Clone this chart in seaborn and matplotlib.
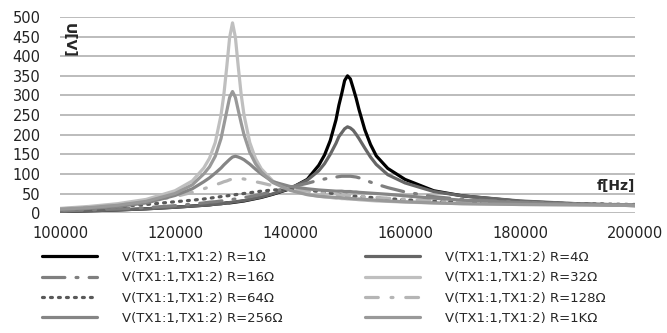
import pandas as pd
import seaborn as sns
import matplotlib.pyplot as plt

sns.set_style('white')
plt.rcParams['font.family'] = ['DejaVu Sans']

# frequency points in kHz
freq_khz = [100, 105, 110, 115, 120, 123, 125, 126, 127, 128, 128.5, 129, 129.5, 130,
            130.5, 131, 131.5, 132, 133, 134, 135, 137, 140, 143, 145, 146, 147, 148,
            148.5, 149, 149.5, 150, 150.5, 151, 151.5, 152, 153, 154, 155, 157, 160,
            165, 170, 180, 190, 200]

r_1 = [4, 6, 8, 11, 15, 18, 20, 21, 23, 24, 25, 26, 26, 27, 28, 29, 30, 31, 34, 37, 40,
       48, 62, 86, 122, 148, 185, 238, 275, 305, 338, 350, 342, 318, 293, 264, 213, 175,
       146, 114, 86, 57, 44, 30, 23, 19]
r_4 = [4, 6, 8, 11, 15, 18, 20, 21, 23, 24, 25, 26, 27, 28, 29, 30, 31, 32, 35, 38, 41,
       49, 63, 84, 108, 126, 150, 178, 195, 205, 215, 220, 217, 211, 201, 190, 166, 143,
       124, 98, 77, 55, 44, 31, 24, 20]
r_16 = [6, 8, 11, 14, 19, 23, 26, 28, 29, 31, 32, 33, 34, 35, 36, 37, 38, 40, 42, 45, 48,
        55, 66, 76, 84, 87, 90, 92, 93, 94, 94, 94, 94, 93, 92, 90, 85, 79, 74, 65, 54,
        42, 35, 28, 24, 21]
r_32 = [12, 17, 24, 35, 57, 82, 115, 140, 180, 250, 303, 373, 448, 485, 448, 373, 303,
        250, 180, 139, 113, 82, 60, 48, 43, 41, 40, 38, 38, 37, 37, 36, 36, 35, 35, 34,
        33, 32, 31, 30, 28, 26, 24, 22, 21, 20]
r_64 = [8, 13, 17, 22, 29, 33, 36, 38, 40, 42, 43, 44, 45, 46, 47, 48, 49, 50, 52, 54, 56,
        59, 61, 59, 55, 53, 51, 49, 48, 47, 46, 45, 44, 43, 43, 42, 41, 40, 39, 37, 34,
        30, 28, 26, 24, 22]
r_128 = [11, 15, 21, 29, 42, 53, 62, 67, 72, 77, 80, 82, 85, 87, 88, 88, 88, 87, 84, 80,
         77, 70, 62, 56, 52, 51, 49, 48, 47, 46, 46, 45, 44, 44, 43, 43, 42, 41, 40, 38,
         35, 31, 28, 25, 22, 21]
r_256 = [8, 12, 17, 26, 45, 62, 80, 90, 102, 115, 123, 130, 137, 143, 145, 143, 140, 136,
         125, 112, 100, 80, 68, 62, 59, 58, 57, 56, 56, 56, 55, 55, 55, 54, 54, 53, 52,
         51, 50, 48, 44, 38, 33, 27, 23, 21]
r_1k = [10, 14, 20, 30, 50, 72, 100, 118, 145, 190, 225, 260, 295, 310, 295, 262, 230,
        200, 155, 126, 105, 78, 58, 47, 43, 42, 41, 40, 40, 39, 38, 38, 37, 37, 36, 36,
        35, 34, 33, 31, 29, 26, 24, 22, 21, 20]

labels = ['V(TX1:1,TX1:2) R=1Ω', 'V(TX1:1,TX1:2) R=4Ω', 'V(TX1:1,TX1:2) R=16Ω',
          'V(TX1:1,TX1:2) R=32Ω', 'V(TX1:1,TX1:2) R=64Ω', 'V(TX1:1,TX1:2) R=128Ω',
          'V(TX1:1,TX1:2) R=256Ω', 'V(TX1:1,TX1:2) R=1KΩ']
series = [r_1, r_4, r_16, r_32, r_64, r_128, r_256, r_1k]

colors = ['#000000', '#666666', '#7f7f7f', '#bfbfbf', '#595959', '#b5b5b5', '#858585', '#999999']
dashes = ['', '', (7, 3.5, 0.6, 3.5), '', (0.6, 1.9), (4, 4, 0.6, 4), '', '']

frames = []
for lab, vals in zip(labels, series):
    frames.append(pd.DataFrame({'f': [v * 1000 for v in freq_khz], 'U': vals, 'Series': lab}))
df = pd.concat(frames).reset_index(drop=True)

fig = plt.figure(figsize=(6.67, 3.33), dpi=100)
ax = fig.add_axes([0.09, 0.36, 0.862, 0.589])

sns.lineplot(df, x='f', y='U', hue='Series', style='Series', hue_order=labels,
             style_order=labels, palette=dict(zip(labels, colors)),
             dashes=dict(zip(labels, dashes)), linewidth=2.3, legend=False, ax=ax)

lines = ax.get_lines()[:len(labels)]
for ln in lines:
    ln.set_solid_capstyle('round')
    ln.set_solid_joinstyle('round')
    ln.set_dash_capstyle('round')

ax.set_xlim(100000, 200000)
ax.set_ylim(0, 500)
ax.set_xticks(range(100000, 200001, 20000))
ax.set_yticks(range(0, 501, 50))
ax.grid(axis='y', color='#b0b0b0', linewidth=1.2)
ax.grid(axis='x', visible=False)
ax.set_axisbelow(True)
for s in ax.spines.values():
    s.set_visible(False)
ax.tick_params(axis='both', length=0, labelsize=10.5, colors='#222222')
ax.tick_params(axis='x', pad=9)
ax.tick_params(axis='y', pad=14)
ax.set_xlabel('')
ax.set_ylabel('')

ax.text(100300, 440, 'U[V]', rotation=270, fontsize=10, fontweight='bold',
        ha='left', va='center')
ax.text(200000, 70, 'f[Hz]', fontsize=10, fontweight='bold', ha='right', va='center')

order = [0, 2, 4, 6, 1, 3, 5, 7]
fig.legend([lines[i] for i in order], [labels[i] for i in order], loc='upper left',
           bbox_to_anchor=(0.055, 0.262), ncol=2, frameon=False, fontsize=9.5,
           handlelength=4.2, handletextpad=1.9, columnspacing=6.2, labelspacing=0.55,
           borderaxespad=0)

fig.savefig('out.png', dpi=100)
